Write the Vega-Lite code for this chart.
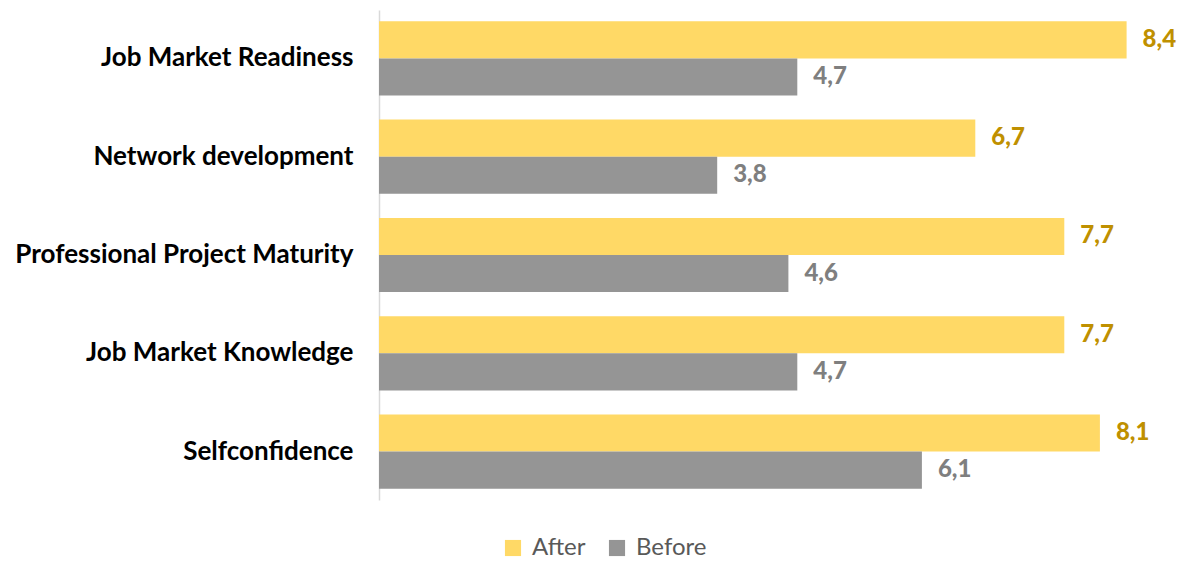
{
  "$schema": "https://vega.github.io/schema/vega-lite/v6.json",
  "width": 801,
  "height": 490,
  "autosize": {"type": "none"},
  "padding": {"left": 379, "top": 10, "right": 1, "bottom": 64},
  "background": "white",
  "config": {
    "view": {"stroke": null},
    "locale": {"number": {"decimal": ",", "thousands": ".", "grouping": [3], "currency": ["", " €"]}},
    "font": "Lato"
  },
  "data": {
    "values": [
      {"Category": "Job Market Readiness", "Series": "After", "Value": 8.4},
      {"Category": "Job Market Readiness", "Series": "Before", "Value": 4.7},
      {"Category": "Network development", "Series": "After", "Value": 6.7},
      {"Category": "Network development", "Series": "Before", "Value": 3.8},
      {"Category": "Professional Project Maturity", "Series": "After", "Value": 7.7},
      {"Category": "Professional Project Maturity", "Series": "Before", "Value": 4.6},
      {"Category": "Job Market Knowledge", "Series": "After", "Value": 7.7},
      {"Category": "Job Market Knowledge", "Series": "Before", "Value": 4.7},
      {"Category": "Selfconfidence", "Series": "After", "Value": 8.1},
      {"Category": "Selfconfidence", "Series": "Before", "Value": 6.1}
    ]
  },
  "encoding": {
    "y": {
      "field": "Category", "type": "nominal", "sort": null,
      "scale": {"paddingInner": 0.245, "paddingOuter": 0.115},
      "axis": {
        "title": null, "ticks": false, "domainColor": "#D9D9D9", "domainWidth": 1.5,
        "labelFont": "Lato", "labelFontWeight": "bold", "labelFontSize": 26,
        "labelColor": "#000000", "labelPadding": 26, "labelLimit": 400
      }
    },
    "yOffset": {"field": "Series", "type": "nominal", "sort": ["After", "Before"], "scale": {"paddingInner": 0, "paddingOuter": 0}},
    "x": {
      "field": "Value", "type": "quantitative",
      "scale": {"domain": [0, 9], "nice": false},
      "axis": null
    }
  },
  "layer": [
    {
      "mark": {"type": "bar"},
      "encoding": {
        "color": {
          "field": "Series", "type": "nominal",
          "scale": {"domain": ["After", "Before"], "range": ["#FFD966", "#959595"]},
          "legend": {
            "title": null, "orient": "none", "direction": "horizontal",
            "legendX": 122, "legendY": 526,
            "symbolType": "square", "symbolSize": 260, "symbolStrokeWidth": 0,
            "labelFont": "Lato", "labelFontSize": 24, "labelColor": "#595959",
            "columnPadding": 19, "labelOffset": 7
          }
        }
      }
    },
    {
      "mark": {"type": "text", "align": "left", "baseline": "middle", "dx": 16, "fontWeight": 900, "fontSize": 24, "font": "Lato"},
      "encoding": {
        "text": {"field": "Value", "type": "quantitative", "format": ".1f"},
        "color": {"condition": {"test": "datum.Series === 'After'", "value": "#BF9000"}, "value": "#7F7F7F"}
      }
    }
  ]
}
